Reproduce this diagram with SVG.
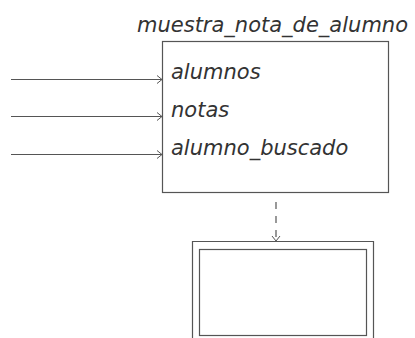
<svg xmlns="http://www.w3.org/2000/svg" width="415" height="338" viewBox="0 0 415 338">
<style>
.ln{stroke:#555;stroke-width:1.2;fill:none}
.t{font-family:"DejaVu Sans",sans-serif;font-style:italic;font-size:21px;fill:#333}
</style>
<defs>
<marker id="ah" markerWidth="10" markerHeight="10" refX="8" refY="5" orient="auto" markerUnits="userSpaceOnUse">
<path d="M3,1 L8,5 L3,9" fill="none" stroke="#555" stroke-width="1"/>
</marker>
</defs>
<rect width="415" height="338" fill="#fff"/>
<g id="proc">
<rect class="ln" x="162.5" y="41.5" width="226" height="151"/>
<text class="t" x="137" y="31.5">muestra_nota_de_alumno</text>
<text class="t" x="171" y="79">alumnos</text>
<text class="t" x="171" y="117">notas</text>
<text class="t" x="171" y="154.5">alumno_buscado</text>
</g>
<g id="out">
<path class="ln" d="M192.5,338 V241.5 H373.5 V338"/>
<rect class="ln" x="199.5" y="249.5" width="167" height="86"/>
</g>
<g id="connectors">
<line class="ln" x1="11" y1="79.5" x2="162" y2="79.5" marker-end="url(#ah)"/>
<line class="ln" x1="11" y1="116.5" x2="162" y2="116.5" marker-end="url(#ah)"/>
<line class="ln" x1="11" y1="154.5" x2="162" y2="154.5" marker-end="url(#ah)"/>
<line class="ln" x1="276" y1="202" x2="276" y2="241" stroke-dasharray="7,7" marker-end="url(#ah)"/>
</g>
</svg>
